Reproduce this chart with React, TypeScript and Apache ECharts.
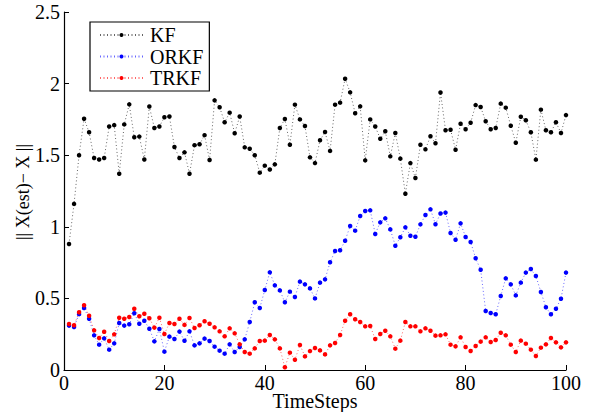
import React, { useEffect, useRef } from "react";
import * as echarts from "echarts";

const steps: number[] = Array.from({ length: 100 }, (_, i) => i + 1);

const kf: number[] = [
  0.88, 1.16, 1.5, 1.755, 1.66, 1.48, 1.47, 1.48, 1.7, 1.71,
  1.37, 1.715, 1.855, 1.625, 1.63, 1.47, 1.84, 1.69, 1.7, 1.765,
  1.77, 1.557, 1.48, 1.52, 1.37, 1.57, 1.576, 1.64, 1.466, 1.883,
  1.835, 1.73, 1.797, 1.653, 1.77, 1.555, 1.545, 1.5, 1.378, 1.427,
  1.4, 1.436, 1.69, 1.753, 1.573, 1.853, 1.75, 1.704, 1.485, 1.445,
  1.604, 1.662, 1.53, 1.853, 1.867, 2.034, 1.939, 1.793, 1.841, 1.464,
  1.75, 1.7, 1.615, 1.667, 1.492, 1.655, 1.476, 1.231, 1.445, 1.341,
  1.573, 1.541, 1.632, 1.583, 1.938, 1.674, 1.678, 1.538, 1.72, 1.681,
  1.727, 1.85, 1.837, 1.737, 1.681, 1.69, 1.86, 1.832, 1.706, 1.587,
  1.769, 1.744, 1.66, 1.469, 1.818, 1.674, 1.66, 1.73, 1.655, 1.78,
];

const orkf: number[] = [
  0.31, 0.3, 0.39, 0.433, 0.358, 0.242, 0.177, 0.221, 0.142, 0.186,
  0.328, 0.31, 0.319, 0.396, 0.323, 0.344, 0.288, 0.2, 0.286, 0.128,
  0.233, 0.216, 0.268, 0.204, 0.27, 0.172, 0.186, 0.219, 0.202, 0.163,
  0.135, 0.114, 0.179, 0.126, 0.161, 0.214, 0.335, 0.473, 0.433, 0.559,
  0.682, 0.591, 0.556, 0.473, 0.547, 0.51, 0.617, 0.598, 0.57, 0.5,
  0.61, 0.633, 0.752, 0.831, 0.836, 0.903, 1.006, 0.973, 1.075, 1.11,
  1.115, 0.95, 1.031, 1.059, 0.982, 0.868, 0.927, 0.996, 0.938, 0.931,
  1.017, 1.082, 1.122, 1.018, 1.093, 1.099, 0.957, 0.91, 1.024, 0.929,
  0.894, 0.78, 0.7, 0.412, 0.398, 0.389, 0.517, 0.64, 0.598, 0.521,
  0.61, 0.68, 0.705, 0.656, 0.545, 0.438, 0.389, 0.428, 0.498, 0.68,
];

const trkf: number[] = [
  0.321, 0.312, 0.403, 0.452, 0.379, 0.277, 0.223, 0.267, 0.202, 0.249,
  0.365, 0.358, 0.37, 0.428, 0.375, 0.393, 0.361, 0.296, 0.365, 0.251,
  0.328, 0.321, 0.358, 0.315, 0.363, 0.293, 0.312, 0.34, 0.323, 0.298,
  0.27, 0.235, 0.291, 0.256, 0.179, 0.126, 0.114, 0.151, 0.202, 0.205,
  0.244, 0.214, 0.151, 0.019, 0.121, 0.072, 0.175, 0.095, 0.132, 0.154,
  0.137, 0.109, 0.172, 0.189, 0.244, 0.344, 0.389, 0.354, 0.335, 0.305,
  0.307, 0.216, 0.251, 0.274, 0.235, 0.149, 0.205, 0.335, 0.305, 0.305,
  0.27, 0.291, 0.274, 0.24, 0.242, 0.249, 0.177, 0.165, 0.228, 0.161,
  0.133, 0.168, 0.198, 0.228, 0.196, 0.21, 0.26, 0.242, 0.177, 0.126,
  0.205, 0.184, 0.142, 0.098, 0.156, 0.179, 0.223, 0.193, 0.158, 0.193,
];

const seriesNames = ["KF", "ORKF", "TRKF"];
const seriesColors = ["#000000", "#0000ff", "#ff0000"];
const seriesValues = [kf, orkf, trkf];

const xTitle = "TimeSteps";
const yTitle = "|| X(est)\u2212 X ||";

const FONT = "'Liberation Serif', 'Times New Roman', serif";

export default function App() {
  const ref = useRef<HTMLDivElement>(null);

  useEffect(() => {
    if (!ref.current) return;
    const chart = echarts.init(ref.current, null, { renderer: "svg" });
    chart.setOption({
      animation: false,
      backgroundColor: "#ffffff",
      textStyle: { fontFamily: FONT, fontSize: 20 },
      grid: {
        left: 64,
        right: 25,
        top: 12,
        bottom: 42,
        containLabel: false,
        outerBoundsMode: "none",
      },
      graphic: [
        {
          type: "text",
          x: 23,
          y: 192,
          rotation: Math.PI / 2,
          silent: true,
          style: {
            text: yTitle,
            fill: "#000",
            fontFamily: FONT,
            fontSize: 18,
            align: "center",
            verticalAlign: "middle",
            textAlign: "center",
            textVerticalAlign: "middle",
          },
        },
        {
          type: "text",
          x: 315,
          y: 401,
          silent: true,
          style: {
            text: xTitle,
            fill: "#000",
            fontFamily: FONT,
            fontSize: 20,
            align: "center",
            verticalAlign: "middle",
            textAlign: "center",
            textVerticalAlign: "middle",
          },
        },
      ],
      legend: {
        left: 90,
        top: 22,
        orient: "vertical",
        itemWidth: 43,
        itemHeight: 5,
        itemGap: 1.5,
        padding: [3, 6, 3, 9],
        borderColor: "#000000",
        borderWidth: 1.2,
        backgroundColor: "#ffffff",
        formatter: "{t|{name}}",
        textStyle: {
          fontFamily: FONT,
          fontSize: 20,
          color: "#000",
          rich: {
            t: {
              fontFamily: FONT,
              fontSize: 20,
              lineHeight: 21,
              color: "#000",
              padding: [0, 0, 0, 2],
            },
          },
        },
        data: seriesNames,
      },
      xAxis: {
        type: "value",
        min: 0,
        max: 100,
        interval: 20,
        axisLine: { show: true, onZero: false, lineStyle: { color: "#000", width: 1.2 } },
        axisTick: { show: true, inside: true, length: 5, lineStyle: { color: "#000" } },
        axisLabel: { fontFamily: FONT, fontSize: 20, color: "#000", margin: 3 },
        splitLine: { show: false },
      },
      yAxis: {
        type: "value",
        min: 0,
        max: 2.5,
        interval: 0.5,
        axisLine: { show: true, lineStyle: { color: "#000", width: 1.2 } },
        axisTick: { show: true, inside: true, length: 5, lineStyle: { color: "#000" } },
        axisLabel: { fontFamily: FONT, fontSize: 20, color: "#000", margin: 4 },
        splitLine: { show: false },
      },
      series: seriesNames.map((name, k) => ({
        name,
        type: "line",
        data: steps.map((s, i) => [s, seriesValues[k][i]]),
        symbol: "circle",
        symbolSize: 4.5,
        showSymbol: true,
        itemStyle: { color: seriesColors[k] },
        lineStyle: { color: seriesColors[k], width: 1, type: [1, 2.5], opacity: 0.6 },
      })),
    });
    return () => chart.dispose();
  }, []);

  return (
    <div
      ref={ref}
      style={{ position: "fixed", left: 0, top: 0, width: 591, height: 412 }}
    />
  );
}
